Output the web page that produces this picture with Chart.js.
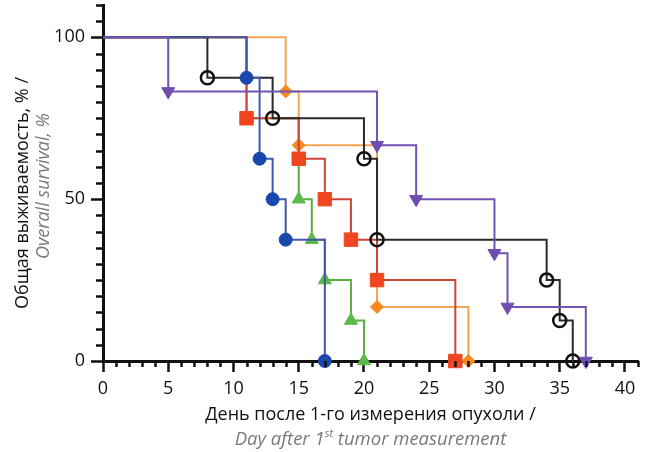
<!DOCTYPE html>
<html>
<head>
<meta charset="utf-8">
<script src="https://cdn.jsdelivr.net/npm/chart.js@4.4.1/dist/chart.umd.min.js"></script>
<style>
  html, body { margin: 0; padding: 0; background: #fff; }
  #wrap { width: 649px; height: 452px; }
</style>
</head>
<body>
<div id="wrap"><canvas id="survivalChart"></canvas></div>
<script>
// Kaplan-Meier curves: day -> % still alive
const blueDays = [0, 11, 12, 13, 14, 17];
const blueSurv = [100, 87.5, 62.5, 50, 37.5, 0];

const blackDays = [0, 8, 13, 20, 21, 34, 35, 36];
const blackSurv = [100, 87.5, 75, 62.5, 37.5, 25, 12.5, 0];

const purpleDays = [0, 5, 21, 24, 30, 31, 37];
const purpleSurv = [100, 83.3, 66.7, 50, 33.3, 16.7, 0];

const orangeDays = [0, 14, 15, 21, 28];
const orangeSurv = [100, 83.3, 66.7, 16.7, 0];

const redDays = [0, 11, 15, 17, 19, 21, 27];
const redSurv = [100, 75, 62.5, 50, 37.5, 25, 0];

// first drop sits under the red curve
const greenDays = [0, 11, 15, 16, 17, 19, 20];
const greenSurv = [100, 75, 50, 37.5, 25, 12.5, 0];

const xTickValues = [0, 5, 10, 15, 20, 25, 30, 35, 40];
const yTickValues = [0, 50, 100];

const yTitle = 'Общая выживаемость, % /';
const yTitleEn = 'Overall survival, %';
const xTitle = 'День после 1-го измерения опухоли /';
const xTitleEn = ['Day after 1', 'st', ' tumor measurement'];

const FONT = '"Open Sans", sans-serif';

function toPoints(days, surv) {
    return days.map((d, i) => ({ x: d, y: surv[i] }));
}

// no marker on the starting (0, 100) point
function markerRadius(days, r) {
    return days.map((d, i) => i === 0 ? 0 : r);
}

function curve(days, surv, line, point, style, r, extra) {
    return Object.assign({
        data: toPoints(days, surv),
        showLine: true,
        stepped: 'before',
        borderColor: line,
        borderWidth: 2,
        pointBackgroundColor: point,
        pointBorderColor: point,
        pointBorderWidth: 1,
        pointStyle: style,
        pointRadius: markerRadius(days, r),
        pointHoverRadius: markerRadius(days, r),
        clip: false
    }, extra || {});
}

// minor ticks + two-language axis titles
const axisDecor = {
    id: 'axisDecor',
    afterDraw(chart) {
        const ctx = chart.ctx;
        const xs = chart.scales.x;
        const ys = chart.scales.y;
        const area = chart.chartArea;

        ctx.save();
        ctx.strokeStyle = '#111';
        ctx.lineWidth = 2.5;
        ctx.beginPath();
        for (let d = xs.min; d <= xs.max; d++) {
            if (xTickValues.includes(d)) continue;
            const px = Math.round(xs.getPixelForValue(d)) + 0.5;
            ctx.moveTo(px, area.bottom);
            ctx.lineTo(px, area.bottom + 6);
        }
        for (let v = ys.min; v <= ys.max; v += 5) {
            if (yTickValues.includes(v)) continue;
            const py = Math.round(ys.getPixelForValue(v)) + 0.5;
            ctx.moveTo(area.left, py);
            ctx.lineTo(area.left - 7, py);
        }
        ctx.stroke();

        // y title, rotated
        ctx.textAlign = 'center';
        ctx.textBaseline = 'alphabetic';
        ctx.save();
        ctx.translate(28, 193);
        ctx.rotate(-Math.PI / 2);
        ctx.fillStyle = '#111';
        ctx.font = '18px ' + FONT;
        ctx.fillText(yTitle, 0, 0);
        ctx.restore();

        ctx.save();
        ctx.translate(49, 186);
        ctx.rotate(-Math.PI / 2);
        ctx.fillStyle = '#7a7a7a';
        ctx.font = 'italic 18px ' + FONT;
        ctx.fillText(yTitleEn, 0, 0);
        ctx.restore();

        // x title
        const cx = (area.left + area.right) / 2;
        ctx.fillStyle = '#111';
        ctx.font = '18px ' + FONT;
        ctx.fillText(xTitle, cx, 420);

        const big = 'italic 18.5px ' + FONT;
        const small = 'italic 11px ' + FONT;
        ctx.font = big;
        const w1 = ctx.measureText(xTitleEn[0]).width;
        const w3 = ctx.measureText(xTitleEn[2]).width;
        ctx.font = small;
        const w2 = ctx.measureText(xTitleEn[1]).width;
        let x0 = cx - (w1 + w2 + w3) / 2;
        ctx.textAlign = 'left';
        ctx.fillStyle = '#7a7a7a';
        ctx.font = big;
        ctx.fillText(xTitleEn[0], x0, 445);
        ctx.font = small;
        ctx.fillText(xTitleEn[1], x0 + w1, 437);
        ctx.font = big;
        ctx.fillText(xTitleEn[2], x0 + w1 + w2, 445);

        ctx.restore();
    }
};

new Chart(document.getElementById('survivalChart'), {
    type: 'scatter',
    data: {
        datasets: [
            curve(purpleDays, purpleSurv, '#7252b2', '#6e4fb0', 'triangle', 7.5, { pointRotation: 180 }),
            curve(blueDays, blueSurv, '#4356a8', '#1a47ae', 'circle', 6.5),
            curve(blackDays, blackSurv, '#2a2a2a', '#111111', 'circle', 6.5, {
                pointBackgroundColor: 'rgba(255,255,255,0)', pointBorderWidth: 2.5
            }),
            curve(redDays, redSurv, '#cf4535', '#f0461f', 'rect', 9.5),
            curve(orangeDays, orangeSurv, '#f4a455', '#f7891f', 'rectRot', 6.5),
            curve(greenDays, greenSurv, '#5aad45', '#5cb848', 'triangle', 7.5)
        ]
    },
    options: {
        responsive: true,
        maintainAspectRatio: false,
        animation: false,
        layout: { autoPadding: false, padding: { top: 5, right: 11, left: 0, bottom: 0 } },
        plugins: {
            legend: { display: false },
            tooltip: { enabled: false }
        },
        scales: {
            x: {
                type: 'linear',
                min: 0,
                max: 41,
                afterBuildTicks: s => { s.ticks = xTickValues.map(v => ({ value: v })); },
                afterFit: s => { s.height = 91; s.paddingLeft = 0; s.paddingRight = 0; },
                grid: { drawOnChartArea: false, tickLength: 11, tickWidth: 2.5, tickColor: '#111' },
                border: { color: '#111', width: 3 },
                ticks: { color: '#111', font: { family: FONT, size: 18 }, padding: 6, maxRotation: 0 }
            },
            y: {
                min: 0,
                max: 110,
                afterBuildTicks: s => { s.ticks = yTickValues.map(v => ({ value: v })); },
                afterFit: s => { s.width = 103; s.paddingTop = 0; s.paddingBottom = 0; },
                grid: { drawOnChartArea: false, tickLength: 12, tickWidth: 2.5, tickColor: '#111' },
                border: { color: '#111', width: 3 },
                ticks: { color: '#111', font: { family: FONT, size: 18 }, padding: 6 }
            }
        }
    },
    plugins: [axisDecor]
});
</script>
</body>
</html>
